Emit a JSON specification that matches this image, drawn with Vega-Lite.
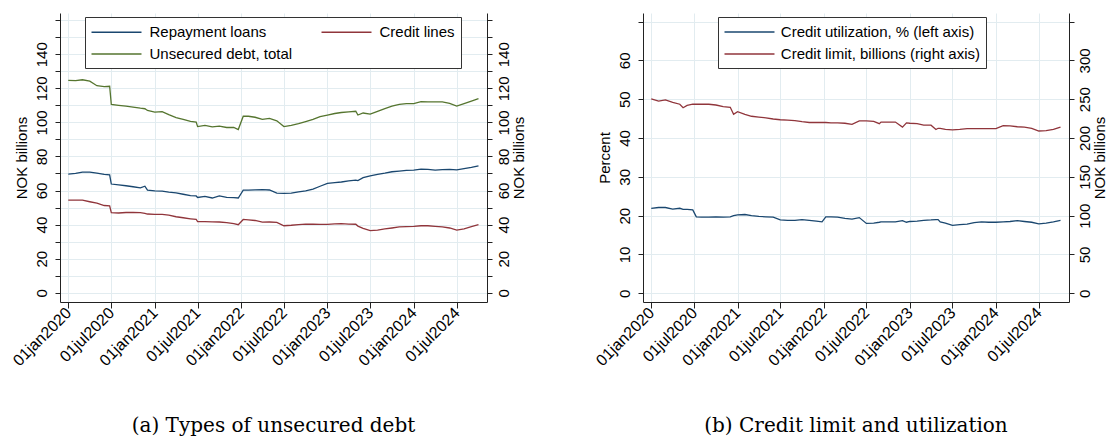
{
"$schema": "https://vega.github.io/schema/vega-lite/v6.json",
"padding": {"left": 9, "top": 13, "right": 5, "bottom": 0},
"bounds": "flush",
"spacing": 156,
"resolve": {"scale": {"color": "independent"}, "legend": {"color": "independent"}},
"config": {
  "view": {"stroke": null},
  "font": "Liberation Sans",
  "axis": {"labelFont": "Liberation Sans", "labelFontSize": 15, "labelColor": "#000", "titleFont": "Liberation Sans", "titleFontSize": 15, "titleFontWeight": "normal", "titleColor": "#000", "domainColor": "#222", "tickColor": "#222", "gridColor": "#e2ecf0", "gridWidth": 1, "labelOverlap": false, "labelFlush": false},
  "legend": {"labelFont": "Liberation Sans", "labelFontSize": 15, "labelColor": "#000", "symbolType": "M-2.94,0H2.94", "symbolSize": 289, "symbolOffset": 16.5, "symbolStrokeWidth": 1.4, "strokeColor": "#333", "fillColor": "#fff", "padding": 5.5, "labelOffset": 23.5, "labelLimit": 400, "rowPadding": 4, "cornerRadius": 0}
},
"datasets": {
 "debt": [
  {"date":"2020-01-01","repay":69.6,"lines":54.4,"total":124.7},
  {"date":"2020-02-01","repay":70.0,"lines":54.4,"total":124.5},
  {"date":"2020-03-01","repay":70.8,"lines":54.3,"total":125.0},
  {"date":"2020-04-01","repay":70.8,"lines":53.4,"total":124.2},
  {"date":"2020-05-01","repay":70.2,"lines":52.6,"total":121.5},
  {"date":"2020-06-01","repay":69.5,"lines":51.2,"total":121.0},
  {"date":"2020-06-24","repay":69.2,"lines":51.0,"total":121.2},
  {"date":"2020-07-01","repay":63.8,"lines":47.0,"total":110.5},
  {"date":"2020-08-01","repay":63.3,"lines":46.8,"total":110.0},
  {"date":"2020-09-01","repay":62.8,"lines":47.1,"total":109.5},
  {"date":"2020-10-01","repay":62.2,"lines":47.1,"total":109.0},
  {"date":"2020-11-01","repay":61.6,"lines":47.0,"total":108.3},
  {"date":"2020-11-20","repay":62.5,"lines":46.6,"total":108.0},
  {"date":"2020-12-01","repay":60.2,"lines":46.2,"total":107.0},
  {"date":"2021-01-01","repay":59.8,"lines":46.0,"total":106.0},
  {"date":"2021-02-01","repay":59.6,"lines":46.0,"total":106.3},
  {"date":"2021-03-01","repay":59.0,"lines":45.6,"total":104.5},
  {"date":"2021-04-01","repay":58.6,"lines":44.6,"total":102.8},
  {"date":"2021-05-01","repay":57.8,"lines":44.0,"total":101.8},
  {"date":"2021-06-01","repay":57.0,"lines":43.4,"total":100.6},
  {"date":"2021-06-25","repay":56.8,"lines":43.0,"total":100.2},
  {"date":"2021-07-01","repay":55.9,"lines":41.8,"total":97.5},
  {"date":"2021-08-01","repay":56.6,"lines":41.7,"total":98.2},
  {"date":"2021-09-01","repay":55.6,"lines":41.6,"total":97.4},
  {"date":"2021-10-01","repay":56.8,"lines":41.5,"total":97.8},
  {"date":"2021-11-01","repay":56.0,"lines":41.1,"total":97.0},
  {"date":"2021-12-01","repay":55.8,"lines":40.5,"total":97.0},
  {"date":"2021-12-20","repay":55.6,"lines":39.9,"total":95.8},
  {"date":"2022-01-10","repay":60.2,"lines":43.0,"total":103.6},
  {"date":"2022-02-01","repay":60.2,"lines":42.8,"total":103.6},
  {"date":"2022-03-01","repay":60.4,"lines":42.4,"total":103.0},
  {"date":"2022-04-01","repay":60.5,"lines":41.4,"total":101.8},
  {"date":"2022-05-01","repay":60.3,"lines":41.5,"total":102.3},
  {"date":"2022-06-01","repay":58.5,"lines":41.3,"total":100.9},
  {"date":"2022-07-01","repay":58.3,"lines":39.3,"total":97.5},
  {"date":"2022-08-01","repay":58.5,"lines":39.6,"total":98.2},
  {"date":"2022-09-01","repay":59.2,"lines":40.0,"total":99.2},
  {"date":"2022-10-01","repay":59.8,"lines":40.3,"total":100.5},
  {"date":"2022-11-01","repay":60.8,"lines":40.2,"total":101.8},
  {"date":"2022-12-01","repay":62.5,"lines":40.1,"total":103.4},
  {"date":"2023-01-01","repay":64.2,"lines":40.1,"total":104.3},
  {"date":"2023-02-01","repay":64.6,"lines":40.4,"total":105.2},
  {"date":"2023-03-01","repay":65.0,"lines":40.6,"total":105.8},
  {"date":"2023-04-01","repay":65.6,"lines":40.3,"total":106.2},
  {"date":"2023-05-01","repay":66.1,"lines":40.2,"total":106.5},
  {"date":"2023-05-10","repay":65.8,"lines":39.1,"total":104.3},
  {"date":"2023-06-01","repay":67.5,"lines":37.8,"total":105.5},
  {"date":"2023-07-01","repay":68.6,"lines":36.4,"total":104.8},
  {"date":"2023-08-01","repay":69.5,"lines":36.8,"total":106.5},
  {"date":"2023-09-01","repay":70.2,"lines":37.5,"total":108.0},
  {"date":"2023-10-01","repay":71.0,"lines":38.0,"total":109.5},
  {"date":"2023-11-01","repay":71.4,"lines":38.6,"total":110.5},
  {"date":"2023-12-01","repay":71.8,"lines":38.8,"total":111.0},
  {"date":"2024-01-01","repay":72.0,"lines":39.0,"total":111.0},
  {"date":"2024-02-01","repay":72.6,"lines":39.3,"total":112.2},
  {"date":"2024-03-01","repay":72.4,"lines":39.3,"total":112.0},
  {"date":"2024-04-01","repay":72.0,"lines":38.9,"total":112.0},
  {"date":"2024-05-01","repay":72.3,"lines":38.6,"total":112.0},
  {"date":"2024-06-01","repay":72.4,"lines":38.0,"total":111.2},
  {"date":"2024-07-01","repay":72.1,"lines":36.8,"total":109.6},
  {"date":"2024-08-01","repay":72.9,"lines":37.5,"total":111.0},
  {"date":"2024-09-01","repay":73.6,"lines":38.8,"total":112.5},
  {"date":"2024-10-01","repay":74.5,"lines":39.9,"total":114.0}
 ],
 "credit": [
  {"date":"2020-01-01","util":21.85,"limit":250.5},
  {"date":"2020-02-01","util":22.1,"limit":247.5},
  {"date":"2020-03-01","util":22.1,"limit":249},
  {"date":"2020-04-01","util":21.7,"limit":246},
  {"date":"2020-05-01","util":21.9,"limit":243.5},
  {"date":"2020-05-15","util":21.6,"limit":239},
  {"date":"2020-06-01","util":21.6,"limit":242},
  {"date":"2020-06-25","util":21.5,"limit":243.5},
  {"date":"2020-07-10","util":19.7,"limit":243.5},
  {"date":"2020-08-01","util":19.6,"limit":243.5},
  {"date":"2020-09-01","util":19.6,"limit":243.5},
  {"date":"2020-10-01","util":19.7,"limit":242.5},
  {"date":"2020-11-01","util":19.6,"limit":240.5},
  {"date":"2020-12-01","util":19.7,"limit":239.5},
  {"date":"2020-12-15","util":20.0,"limit":230.5},
  {"date":"2021-01-01","util":20.2,"limit":234},
  {"date":"2021-02-01","util":20.3,"limit":230.5},
  {"date":"2021-03-01","util":20.0,"limit":228},
  {"date":"2021-04-01","util":19.8,"limit":227},
  {"date":"2021-05-01","util":19.7,"limit":226},
  {"date":"2021-06-01","util":19.6,"limit":224.5},
  {"date":"2021-07-01","util":18.9,"limit":223.5},
  {"date":"2021-08-01","util":18.8,"limit":223},
  {"date":"2021-09-01","util":18.8,"limit":222.5},
  {"date":"2021-10-01","util":19.0,"limit":221},
  {"date":"2021-11-01","util":18.8,"limit":220},
  {"date":"2021-12-01","util":18.6,"limit":220},
  {"date":"2021-12-25","util":18.4,"limit":220},
  {"date":"2022-01-10","util":19.7,"limit":220},
  {"date":"2022-02-01","util":19.7,"limit":219.5},
  {"date":"2022-03-01","util":19.6,"limit":219.5},
  {"date":"2022-04-01","util":19.3,"limit":219},
  {"date":"2022-05-01","util":19.1,"limit":217.5},
  {"date":"2022-06-01","util":19.5,"limit":222},
  {"date":"2022-07-01","util":18.0,"limit":222},
  {"date":"2022-08-01","util":18.1,"limit":221.5},
  {"date":"2022-08-25","util":18.3,"limit":218.5},
  {"date":"2022-09-01","util":18.4,"limit":220.5},
  {"date":"2022-10-01","util":18.4,"limit":220.5},
  {"date":"2022-11-01","util":18.4,"limit":220.5},
  {"date":"2022-12-01","util":18.7,"limit":214},
  {"date":"2022-12-18","util":18.3,"limit":219.5},
  {"date":"2023-01-01","util":18.5,"limit":219},
  {"date":"2023-02-01","util":18.6,"limit":218.5},
  {"date":"2023-03-01","util":18.8,"limit":216.5},
  {"date":"2023-04-01","util":18.9,"limit":216.5},
  {"date":"2023-04-22","util":19.0,"limit":211},
  {"date":"2023-05-01","util":19.0,"limit":212.5},
  {"date":"2023-05-10","util":18.4,"limit":212.5},
  {"date":"2023-06-01","util":18.1,"limit":211},
  {"date":"2023-07-01","util":17.5,"limit":210.5},
  {"date":"2023-08-01","util":17.7,"limit":211},
  {"date":"2023-09-01","util":17.8,"limit":212},
  {"date":"2023-10-01","util":18.2,"limit":212},
  {"date":"2023-11-01","util":18.4,"limit":212},
  {"date":"2023-12-01","util":18.3,"limit":212},
  {"date":"2024-01-01","util":18.3,"limit":212},
  {"date":"2024-02-01","util":18.4,"limit":216},
  {"date":"2024-03-01","util":18.5,"limit":215.5},
  {"date":"2024-04-01","util":18.7,"limit":214.5},
  {"date":"2024-05-01","util":18.5,"limit":214},
  {"date":"2024-06-01","util":18.3,"limit":212.5},
  {"date":"2024-07-01","util":17.9,"limit":209},
  {"date":"2024-08-01","util":18.1,"limit":209.5},
  {"date":"2024-09-01","util":18.4,"limit":211},
  {"date":"2024-10-01","util":18.8,"limit":214}
 ]
},
"hconcat": [
 {
  "width": 427, "height": 289,
  "title": {"text": "(a) Types of unsecured debt", "orient": "bottom", "anchor": "middle", "frame": "group", "font": "DejaVu Serif", "fontSize": 20, "fontWeight": "normal", "color": "#000", "offset": 47},
  "data": {"name": "debt"},
  "transform": [{"fold": ["repay", "lines", "total"], "as": ["series", "value"]}],
  "resolve": {"scale": {"y": "independent"}},
  "layer": [
   {
    "mark": {"type": "line", "strokeWidth": 1.3},
    "encoding": {
     "x": {"field": "date", "type": "temporal",
       "scale": {"type": "utc", "domain": [{"year":2019,"month":11,"date":27,"utc":true},{"year":2024,"month":11,"date":6,"utc":true}]},
       "axis": {"title": null, "grid": true, "labelFontSize": 16,
         "values": [{"year":2020,"month":1,"date":1,"utc":true},{"year":2020,"month":4,"date":1,"utc":true},{"year":2020,"month":7,"date":1,"utc":true},{"year":2020,"month":10,"date":1,"utc":true},{"year":2021,"month":1,"date":1,"utc":true},{"year":2021,"month":4,"date":1,"utc":true},{"year":2021,"month":7,"date":1,"utc":true},{"year":2021,"month":10,"date":1,"utc":true},{"year":2022,"month":1,"date":1,"utc":true},{"year":2022,"month":4,"date":1,"utc":true},{"year":2022,"month":7,"date":1,"utc":true},{"year":2022,"month":10,"date":1,"utc":true},{"year":2023,"month":1,"date":1,"utc":true},{"year":2023,"month":4,"date":1,"utc":true},{"year":2023,"month":7,"date":1,"utc":true},{"year":2023,"month":10,"date":1,"utc":true},{"year":2024,"month":1,"date":1,"utc":true},{"year":2024,"month":4,"date":1,"utc":true},{"year":2024,"month":7,"date":1,"utc":true},{"year":2024,"month":10,"date":1,"utc":true}],
         "labelExpr": "utcmonth(datum.value) % 6 == 0 ? lower(utcFormat(datum.value, '%d%b%Y')) : ''",
         "labelAngle": -45, "labelAlign": "right", "labelBaseline": "middle", "labelPadding": 2,
         "tickSize": {"condition": {"test": "utcmonth(datum.value) % 6 == 0", "value": 6}, "value": 3}}},
     "y": {"field": "value", "type": "quantitative",
       "scale": {"domain": [-5.45, 164.2], "nice": false, "zero": false},
       "axis": {"orient": "left", "title": "NOK billions", "grid": true, "values": [0,10,20,30,40,50,60,70,80,90,100,110,120,130,140,150,160],
         "labelExpr": "datum.value % 20 == 0 && datum.value <= 140 ? datum.label : ''",
         "labelAngle": -90, "labelAlign": "center", "labelBaseline": "bottom", "tickSize": 5, "labelPadding": 6, "titlePadding": 5}},
     "color": {"field": "series", "type": "nominal",
       "scale": {"domain": ["repay", "lines", "total"], "range": ["#1a476f", "#90353b", "#55752f"]},
       "legend": {"title": null, "orient": "none", "direction": "horizontal", "legendX": 25, "legendY": 4, "columns": 2, "columnPadding": 26,
         "labelExpr": "datum.label == 'repay' ? 'Repayment loans' : datum.label == 'lines' ? 'Credit lines' : 'Unsecured debt, total'"}}
    }
   },
   {
    "mark": {"type": "line", "opacity": 0},
    "encoding": {
     "x": {"field": "date", "type": "temporal"},
     "y": {"field": "value", "type": "quantitative",
       "scale": {"domain": [-5.45, 164.2], "nice": false, "zero": false},
       "axis": {"orient": "right", "title": "NOK billions", "grid": false, "values": [0,10,20,30,40,50,60,70,80,90,100,110,120,130,140,150,160],
         "labelExpr": "datum.value % 20 == 0 && datum.value <= 140 ? datum.label : ''",
         "labelAngle": -90, "labelAlign": "center", "labelBaseline": "top", "tickSize": 5, "labelPadding": 4, "titlePadding": 0, "titleAngle": 270, "titleBaseline": "top"}},
     "detail": {"field": "series"}
    }
   }
  ]
 },
 {
  "width": 426, "height": 289,
  "title": {"text": "(b) Credit limit and utilization", "orient": "bottom", "anchor": "middle", "frame": "group", "font": "DejaVu Serif", "fontSize": 20, "fontWeight": "normal", "color": "#000", "offset": 47},
  "data": {"name": "credit"},
  "transform": [{"fold": ["util", "limit"], "as": ["series", "value"]}],
  "resolve": {"scale": {"y": "independent"}},
  "layer": [
   {
    "transform": [{"filter": "datum.series == 'util'"}],
    "mark": {"type": "line", "strokeWidth": 1.3},
    "encoding": {
     "x": {"field": "date", "type": "temporal",
       "scale": {"type": "utc", "domain": [{"year":2019,"month":11,"date":27,"utc":true},{"year":2024,"month":11,"date":6,"utc":true}]},
       "axis": {"title": null, "grid": true, "labelFontSize": 16,
         "values": [{"year":2020,"month":1,"date":1,"utc":true},{"year":2020,"month":4,"date":1,"utc":true},{"year":2020,"month":7,"date":1,"utc":true},{"year":2020,"month":10,"date":1,"utc":true},{"year":2021,"month":1,"date":1,"utc":true},{"year":2021,"month":4,"date":1,"utc":true},{"year":2021,"month":7,"date":1,"utc":true},{"year":2021,"month":10,"date":1,"utc":true},{"year":2022,"month":1,"date":1,"utc":true},{"year":2022,"month":4,"date":1,"utc":true},{"year":2022,"month":7,"date":1,"utc":true},{"year":2022,"month":10,"date":1,"utc":true},{"year":2023,"month":1,"date":1,"utc":true},{"year":2023,"month":4,"date":1,"utc":true},{"year":2023,"month":7,"date":1,"utc":true},{"year":2023,"month":10,"date":1,"utc":true},{"year":2024,"month":1,"date":1,"utc":true},{"year":2024,"month":4,"date":1,"utc":true},{"year":2024,"month":7,"date":1,"utc":true},{"year":2024,"month":10,"date":1,"utc":true}],
         "labelExpr": "utcmonth(datum.value) % 6 == 0 ? lower(utcFormat(datum.value, '%d%b%Y')) : ''",
         "labelAngle": -45, "labelAlign": "right", "labelBaseline": "middle", "labelPadding": 2,
         "tickSize": {"condition": {"test": "utcmonth(datum.value) % 6 == 0", "value": 6}, "value": 3}}},
     "y": {"field": "value", "type": "quantitative",
       "scale": {"domain": [-2.24, 72.2], "nice": false, "zero": false},
       "axis": {"orient": "left", "title": "Percent", "grid": true, "values": [0,10,20,30,40,50,60,70],
         "labelExpr": "datum.value <= 60 ? datum.label : ''",
         "labelAngle": -90, "labelAlign": "center", "labelBaseline": "bottom", "tickSize": 5, "labelPadding": 6, "titlePadding": 5}},
     "color": {"field": "series", "type": "nominal",
       "scale": {"domain": ["util", "limit"], "range": ["#1a476f", "#90353b"]},
       "legend": {"title": null, "orient": "none", "legendX": 75, "legendY": 4, "labelOffset": 21.8,
         "labelExpr": "datum.label == 'util' ? 'Credit utilization, % (left axis)' : 'Credit limit, billions (right axis)'"}}
    }
   },
   {
    "transform": [{"filter": "datum.series == 'limit'"}],
    "mark": {"type": "line", "strokeWidth": 1.3},
    "encoding": {
     "x": {"field": "date", "type": "temporal"},
     "y": {"field": "value", "type": "quantitative",
       "scale": {"domain": [-11.2, 361], "nice": false, "zero": false},
       "axis": {"orient": "right", "title": "NOK billions", "grid": false, "values": [0,50,100,150,200,250,300,350],
         "labelExpr": "datum.value <= 300 ? datum.label : ''",
         "labelAngle": -90, "labelAlign": "center", "labelBaseline": "top", "tickSize": 5, "labelPadding": 3, "titlePadding": 0, "titleAngle": 270, "titleBaseline": "top"}},
     "color": {"field": "series", "type": "nominal",
       "scale": {"domain": ["util", "limit"], "range": ["#1a476f", "#90353b"]},
       "legend": {"title": null, "orient": "none", "legendX": 75, "legendY": 4, "labelOffset": 21.8,
         "labelExpr": "datum.label == 'util' ? 'Credit utilization, % (left axis)' : 'Credit limit, billions (right axis)'"}}
    }
   }
  ]
 }
]
}
